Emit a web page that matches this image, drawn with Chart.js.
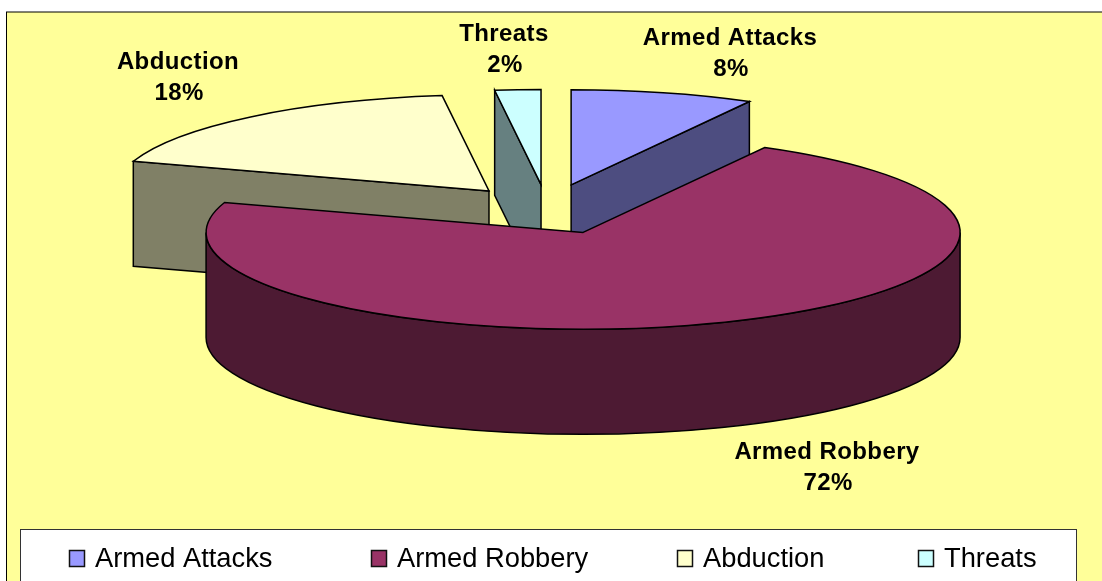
<!DOCTYPE html>
<html>
<head>
<meta charset="utf-8">
<title>Incidents</title>
<script src="https://cdn.jsdelivr.net/npm/chart.js@4.4.0/dist/chart.umd.min.js"></script>
<style>
  html, body { margin: 0; padding: 0; background: #fff; overflow: hidden; }
  canvas { display: block; }
</style>
</head>
<body>
<canvas id="pie" width="1102" height="581"></canvas>
<script>
const categories = ['Armed Attacks', 'Armed Robbery', 'Abduction', 'Threats'];
const shares = [8, 72, 18, 2];
const topColors = ['#9999FF', '#993366', '#FFFFCC', '#CCFFFF'];
const sideColors = ['#4D4D80', '#4D1A33', '#808066', '#668080'];

// fake 3D: the library draws a flat pie, we squash it and add the walls
const CX = 547, CY = 209, RADIUS = 377, TILT = 0.257, DEPTH = 105;
const LINE = 1.5;
const FONT = '"Liberation Sans", Arial, sans-serif';

const pie3d = {
  id: 'pie3d',
  beforeDraw(chart) {
    const ctx = chart.ctx;
    ctx.save();
    ctx.fillStyle = '#FFFF99';
    ctx.strokeStyle = '#000';
    ctx.lineWidth = 1;
    ctx.fillRect(6.5, 12, 1110, 580);
    ctx.strokeRect(6.5, 12, 1110, 580);
    ctx.restore();
  },
  afterDatasetsUpdate(chart) {
    // move every slice out along its middle angle
    const explode = [97, 98, 91, 95];
    const radii = [370, RADIUS, 374, 370];
    chart.getDatasetMeta(0).data.forEach((arc, i) => {
      const mid = (arc.startAngle + arc.endAngle) / 2;
      arc.x = CX + Math.cos(mid) * explode[i];
      arc.y = CY + Math.sin(mid) * explode[i];
      arc.outerRadius = radii[i];
    });
  },
  beforeDatasetsDraw(chart) {
    const ctx = chart.ctx;
    const arcs = chart.getDatasetMeta(0).data;
    // the big slice sits in front, its walls go last
    [0, 2, 3, 1].forEach(i => drawWalls(ctx, arcs[i], sideColors[i]));
    ctx.save();
    ctx.translate(0, CY);
    ctx.scale(1, TILT);
    ctx.translate(0, -CY);
  },
  afterDatasetsDraw(chart) {
    const ctx = chart.ctx;
    ctx.restore();
    chart.getDatasetMeta(0).data.forEach(arc => {
      const p = screenCentre(arc);
      ctx.beginPath();
      ctx.moveTo(p.x, p.y);
      ctx.ellipse(p.x, p.y, arc.outerRadius, arc.outerRadius * TILT, 0, arc.startAngle, arc.endAngle);
      ctx.closePath();
      ctx.strokeStyle = '#000';
      ctx.lineWidth = LINE;
      ctx.stroke();
    });
    drawLabels(ctx);
    drawLegend(ctx);
  }
};

function screenCentre(arc) {
  return { x: arc.x, y: CY + (arc.y - CY) * TILT };
}

function drawWalls(ctx, arc, color) {
  const p = screenCentre(arc);
  const r = arc.outerRadius;
  const a0 = arc.startAngle, a1 = arc.endAngle;
  ctx.save();
  ctx.fillStyle = color;
  ctx.strokeStyle = '#000';
  ctx.lineWidth = LINE;
  const radial = a => {
    const x = p.x + Math.cos(a) * r, y = p.y + Math.sin(a) * r * TILT;
    ctx.beginPath();
    ctx.moveTo(p.x, p.y);
    ctx.lineTo(x, y);
    ctx.lineTo(x, y + DEPTH);
    ctx.lineTo(p.x, p.y + DEPTH);
    ctx.closePath();
    ctx.fill();
    ctx.stroke();
  };
  if (Math.cos(a0) < -1e-6) radial(a0);
  if (Math.cos(a1) > 1e-6) radial(a1);
  // outer wall, only the part facing the viewer
  const from = Math.max(a0, 0), to = Math.min(a1, Math.PI);
  if (to > from) {
    ctx.beginPath();
    ctx.ellipse(p.x, p.y, r, r * TILT, 0, from, to);
    ctx.ellipse(p.x, p.y + DEPTH, r, r * TILT, 0, to, from, true);
    ctx.closePath();
    ctx.fill();
    ctx.stroke();
  }
  ctx.restore();
}

function drawLabels(ctx) {
  const spots = [[730, 38], [827, 452], [178, 62], [504, 34]];
  ctx.save();
  ctx.fillStyle = '#000';
  ctx.font = 'bold 24px ' + FONT;
  ctx.letterSpacing = '0.4px';
  ctx.textAlign = 'center';
  ctx.textBaseline = 'middle';
  categories.forEach((name, i) => {
    ctx.fillText(name, spots[i][0], spots[i][1]);
    ctx.fillText(shares[i] + '%', spots[i][0] + 1, spots[i][1] + 31);
  });
  ctx.restore();
}

// the original legend has uneven gaps, so it is placed by hand
function drawLegend(ctx) {
  const starts = [69, 371, 677, 918];
  ctx.save();
  ctx.fillStyle = '#fff';
  ctx.strokeStyle = '#333';
  ctx.lineWidth = 1;
  ctx.fillRect(20.5, 529.5, 1056, 60);
  ctx.strokeRect(20.5, 529.5, 1056, 60);
  ctx.font = '27.3px ' + FONT;
  ctx.textBaseline = 'alphabetic';
  categories.forEach((name, i) => {
    ctx.fillStyle = topColors[i];
    ctx.strokeStyle = '#111';
    ctx.lineWidth = 1.5;
    ctx.fillRect(starts[i] + 0.5, 550.5, 15, 16);
    ctx.strokeRect(starts[i] + 0.5, 550.5, 15, 16);
    ctx.fillStyle = '#000';
    ctx.fillText(name, starts[i] + 26, 566.5);
  });
  ctx.restore();
}

new Chart(document.getElementById('pie'), {
  type: 'pie',
  data: {
    labels: categories,
    datasets: [{
      data: shares,
      backgroundColor: topColors,
      borderWidth: 0,
      clip: false
    }]
  },
  options: {
    responsive: false,
    animation: false,
    radius: RADIUS,
    plugins: {
      tooltip: { enabled: false },
      legend: { display: false }
    }
  },
  plugins: [pie3d]
});
</script>
</body>
</html>
